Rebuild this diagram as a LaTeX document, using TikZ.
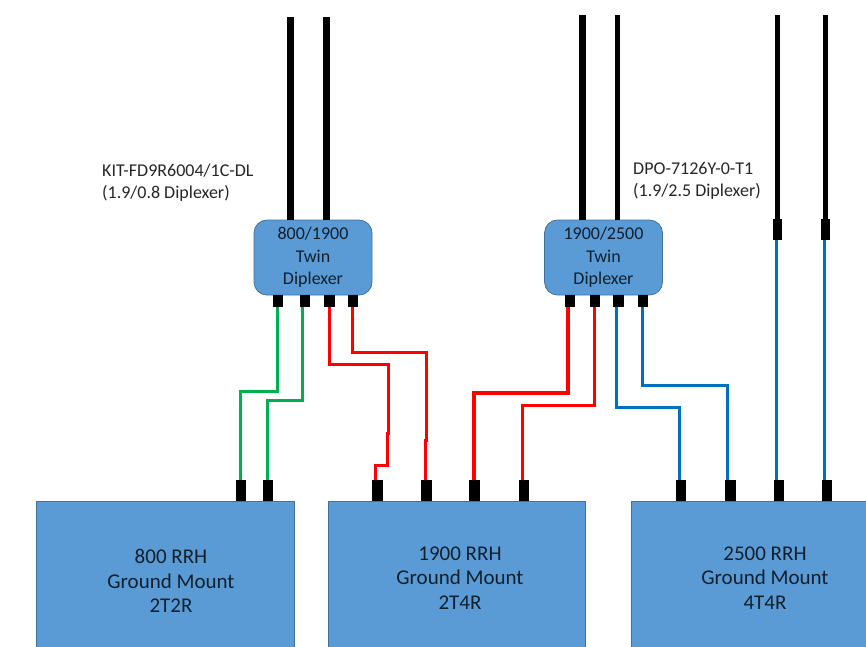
\documentclass[tikz,border=0pt]{standalone}
\usepackage{fontspec}
\setmainfont{Carlito}
\definecolor{boxfill}{HTML}{5B9BD5}
\definecolor{boxline}{HTML}{41719C}
\definecolor{cgreen}{HTML}{00B050}
\definecolor{cred}{HTML}{FF0000}
\definecolor{cblue}{HTML}{0070C0}
\definecolor{txt}{HTML}{10202E}
\tikzset{
  rrhbox/.style={draw=boxline,fill=boxfill,line width=0.8pt,minimum height=155pt,inner sep=0pt,anchor=north west},
  rrhtext/.style={align=center,text=txt,font=\fontsize{21}{24.5}\selectfont},
  dipbox/.style={draw=boxline,fill=boxfill,line width=0.8pt,rounded corners=13pt,minimum width=118pt,minimum height=75pt,inner sep=0pt,align=center,text=txt,font=\fontsize{18}{22.5}\selectfont},
  dport/.style={fill=black,minimum width=10pt,minimum height=12pt,inner sep=0pt,anchor=north},
  rport/.style={fill=black,minimum width=10pt,minimum height=21pt,inner sep=0pt,anchor=south},
  aport/.style={fill=black,minimum width=9pt,minimum height=21pt,inner sep=0pt,anchor=north},
  antenna/.style={draw=black,line width=7pt},
  thinant/.style={draw=black,line width=5pt},
  gwire/.style={draw=cgreen,line width=3pt},
  rwire/.style={draw=cred,line width=3pt},
  bwire/.style={draw=cblue,line width=3pt},
  note/.style={align=left,anchor=west,inner sep=0pt,text=black!85,font=\fontsize{18}{22}\selectfont},
}
\begin{document}
\begin{tikzpicture}[x=1pt,y=-1pt]
\useasboundingbox (0,0) rectangle (866,646);
\clip (0,0) rectangle (866,646);
% boxes
\node[rrhbox,minimum width=258pt] (rrhA) at (35.5,501) {};
\node[rrhbox,minimum width=257pt] (rrhB) at (327.5,501) {};
\node[rrhbox,minimum width=250pt] (rrhC) at (630.5,501) {};
\node[rrhtext] (rrhAt) at (171,581) {800 RRH\\Ground Mount\\2T2R};
\node[rrhtext] (rrhBt) at (460,578) {1900 RRH\\Ground Mount\\2T4R};
\node[rrhtext] (rrhCt) at (765,578) {2500 RRH\\Ground Mount\\4T4R};
\node[dipbox] (dipA) at (313,257.5) {800/1900\\Twin\\Diplexer};
\node[dipbox] (dipB) at (603.5,257.5) {1900/2500\\Twin\\Diplexer};
% labels
\node[note] (noteA) at (102,183) {KIT-FD9R6004/1C-DL\\(1.9/0.8 Diplexer)};
\node[note] (noteB) at (633,181) {DPO-7126Y-0-T1\\(1.9/2.5 Diplexer)};
% diplexer ports
\node[dport] (a1) at (278,295) {};
\node[dport] (a2) at (304.5,295) {};
\node[dport,minimum width=11pt] (a3) at (329,295) {};
\node[dport] (a4) at (352.5,295) {};
\node[dport] (b1) at (569.5,295) {};
\node[dport] (b2) at (594.5,295) {};
\node[dport,minimum width=11pt] (b3) at (618.5,295) {};
\node[dport] (b4) at (642.5,295) {};
% RRH ports
\node[rport] (pa1) at (241,501) {};
\node[rport] (pa2) at (268,501) {};
\node[rport,minimum width=11pt] (pb1) at (377.5,501) {};
\node[rport,minimum width=11pt] (pb2) at (426,501) {};
\node[rport,minimum width=11pt] (pb3) at (474.5,501) {};
\node[rport] (pb4) at (523.5,501) {};
\node[rport] (pc1) at (681,501) {};
\node[rport,minimum width=11pt] (pc2) at (730,501) {};
\node[rport] (pc3) at (779,501) {};
\node[rport] (pc4) at (827,501) {};
% antenna jumpers
\node[aport] (ja) at (777,219) {};
\node[aport] (jb) at (825.5,219) {};
\coordinate (t1) at (290.5,17);
\coordinate (t2) at (326.5,17);
\coordinate (t3) at (582.5,15);
\coordinate (t4) at (617.5,15);
\coordinate (t5) at (777,15);
\coordinate (t6) at (825.5,15);
\draw[antenna] (t1) -- (t1 |- dipA.north);
\draw[antenna] (t2) -- (t2 |- dipA.north);
\draw[antenna] (t3) -- (t3 |- dipB.north);
\draw[antenna,line width=5.5pt] (t4) -- (t4 |- dipB.north);
\draw[thinant] (t5) -- (ja.north);
\draw[thinant] (t6) -- (jb.north);
% connectors
\draw[gwire] ([xshift=-1pt]a1.south) |- (240.7,391) -- (pa1.north -| 240.7,0);
\draw[gwire] ([xshift=-2pt]a2.south) |- (267.3,400) -- (pa2.north -| 267.3,0);
\draw[rwire] (a3.south) |- (388.7,364) -- (388.7,433) -- (387,433) -- (387,465) -- (375,465) -- (pb1.north -| 375,0);
\draw[rwire] (a4.south) |- (426,352.7) -- (426,440) -- (425,440) -- (pb2.north -| 425,0);
\draw[rwire,line width=4pt] ([xshift=-1.2pt]b1.south) |- (473.7,392.7) -- (pb3.north -| 473.7,0);
\draw[rwire] (b2.south) |- (522.3,405) -- (pb4.north -| 522.3,0);
\draw[bwire] ([xshift=-2pt]b3.south) |- (679.3,407) -- (pc1.north -| 679.3,0);
\draw[bwire] (b4.south) |- (727.3,385.3) -- (pc2.north -| 727.3,0);
\draw[bwire] ([xshift=-1pt]ja.south) -- (pc3.north -| 776,0);
\draw[bwire] ([xshift=-1pt]jb.south) -- (pc4.north -| 824.5,0);
\end{tikzpicture}
\end{document}
